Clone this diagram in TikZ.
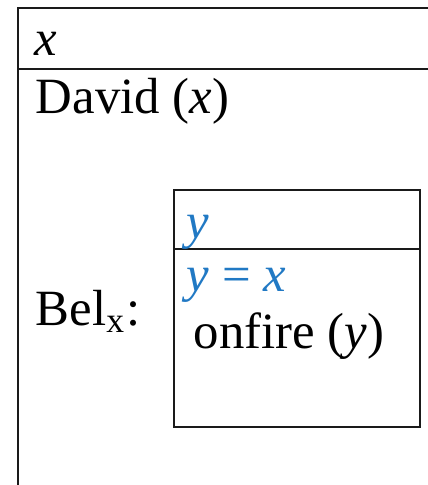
\documentclass[tikz,border=0pt]{standalone}
\usepackage{fontspec}
\setmainfont{Liberation Serif}
\usepackage{xcolor}
\definecolor{ink}{HTML}{1A1A1A}
\definecolor{refblue}{HTML}{2179C4}
\tikzset{
  drsline/.style={draw=ink, line width=0.45pt},
  cond/.style={anchor=base west, inner sep=0pt, font=\fontsize{12.7}{15}\selectfont},
  bluecond/.style={cond, text=refblue}
}

\begin{document}
\begin{tikzpicture}[x=0.25pt,y=-0.25pt]
  \useasboundingbox (0,0) rectangle (428,485);
  \clip (0,0) rectangle (428,485);
  % outer box, cut off at right and bottom
  \draw[drsline] (18,8) rectangle (440,500);
  \draw[drsline] (18,69) -- (440,69);
  \node[cond] (xref) at (34,55) {\textit{x}};
  \node[cond] (david) at (35,113) {David (\textit{x})};
  \node[cond] (bel) at (35,325) {Bel\textsubscript{x}:};
  % embedded box
  \draw[drsline] (174,190) rectangle (420,427);
  \draw[drsline] (174,249) -- (420,249);
  \node[bluecond] (yref) at (186,238) {\textit{y}};
  \node[bluecond] (eq) at (186,291) {\textit{y} = \textit{x}};
  \node[cond] (fire) at (193,348) {onfire (\textit{y})};
\end{tikzpicture}
\end{document}
